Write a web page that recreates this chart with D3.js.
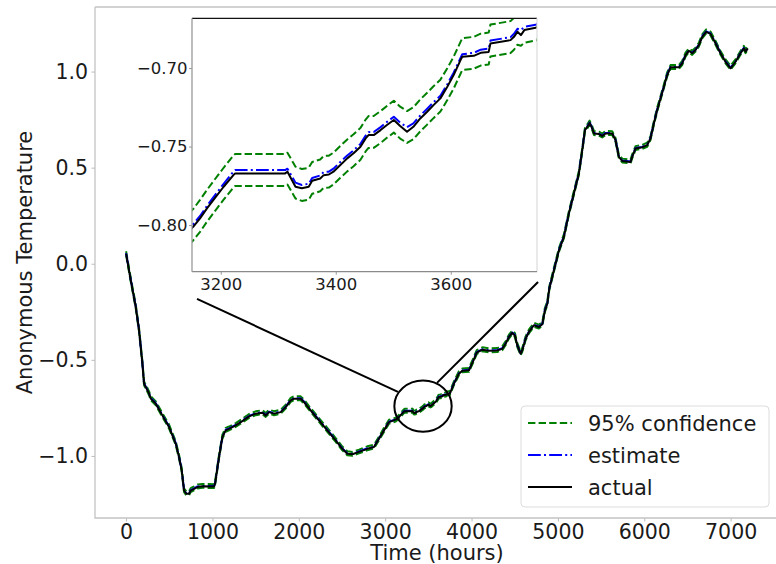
<!DOCTYPE html>
<html>
<head>
<meta charset="utf-8">
<script src="https://cdn.jsdelivr.net/npm/d3@7"></script>
<style>
  body { margin: 0; background: #fff; }
  text { font-family: "DejaVu Sans", sans-serif; fill: #1a1a1a; }
</style>
</head>
<body>
<div id="chart"></div>
<script>
// values (hours, anonymous temperature)
let hours = [
  0, 54, 112, 150, 189, 208, 266, 286, 344, 420, 498, 575, 613, 644, 671, 698, 729, 748, 787, 826,
  883, 1019, 1030, 1076, 1115, 1153, 1192, 1269, 1346, 1424, 1501, 1578, 1617, 1655, 1713, 1790, 1848, 1906, 1944, 2022,
  2060, 2137, 2234, 2330, 2427, 2504, 2562, 2620, 2697, 2793, 2870, 2928, 2986, 3044, 3121,
  3152, 3164, 3176, 3187, 3205, 3222, 3225, 3312, 3316, 3330, 3341, 3353, 3359, 3373, 3379, 3388, 3396, 3408, 3420, 3431,
  3443, 3452, 3457, 3466, 3478, 3489, 3501, 3512, 3524, 3535, 3547, 3559, 3570, 3582, 3594, 3605, 3617, 3620, 3640, 3652,
  3666, 3669, 3704, 3710, 3716, 3722, 3728, 3750,
  3796, 3854, 3893, 3970, 4020, 4060, 4125, 4201, 4298, 4356, 4394, 4433, 4471, 4502, 4529, 4568, 4587, 4626, 4664, 4722,
  4780, 4819, 4850, 4877, 4900, 4954, 5012, 5069, 5127, 5185, 5243, 5282, 5313, 5340, 5367, 5390, 5417, 5475, 5513, 5552,
  5629, 5667, 5706, 5745, 5841, 5860, 5899, 5976, 6034, 6072, 6111, 6149, 6188, 6227, 6265, 6304, 6400, 6439, 6478, 6516,
  6555, 6593, 6632, 6671, 6717, 6767, 6825, 6883, 6941, 6999, 7056, 7114, 7153, 7172, 7199
];

let actual = [
  0.053, -0.086, -0.225, -0.346, -0.520, -0.624, -0.676, -0.702, -0.728, -0.789, -0.850, -0.936, -1.006, -1.075, -1.180, -1.197, -1.197, -1.180, -1.171, -1.162,
  -1.158, -1.159, -1.145, -1.006, -0.902, -0.867, -0.859, -0.841, -0.819, -0.794, -0.780, -0.775, -0.789, -0.772, -0.780, -0.772, -0.746, -0.711, -0.702, -0.702,
  -0.720, -0.763, -0.815, -0.867, -0.919, -0.963, -0.989, -0.991, -0.979, -0.963, -0.954, -0.911, -0.867, -0.824, -0.811,
  -0.8011, -0.7957, -0.7894, -0.7841, -0.7756, -0.7682, -0.7671, -0.7671, -0.7660, -0.7756, -0.7766, -0.7756, -0.7718, -0.7703, -0.7682, -0.7678, -0.7660, -0.7618, -0.7575, -0.7543,
  -0.7501, -0.7448, -0.7427, -0.7427, -0.7395, -0.7363, -0.7331, -0.7369, -0.7406, -0.7374, -0.7321, -0.7278, -0.7236, -0.7193, -0.7119, -0.7045, -0.6949, -0.6928, -0.6922, -0.6903,
  -0.6897, -0.6843, -0.6822, -0.6801, -0.6769, -0.6790, -0.6758, -0.6741,
  -0.624, -0.572, -0.557, -0.554, -0.505, -0.462, -0.447, -0.453, -0.451, -0.442, -0.416, -0.381, -0.360, -0.373, -0.424, -0.468, -0.451, -0.390, -0.355, -0.320,
  -0.329, -0.315, -0.242, -0.208, -0.130, -0.034, 0.070, 0.140, 0.261, 0.366, 0.470, 0.591, 0.695, 0.712, 0.733, 0.712, 0.678, 0.675, 0.665, 0.678,
  0.678, 0.643, 0.556, 0.535, 0.530, 0.556, 0.600, 0.606, 0.617, 0.652, 0.730, 0.799, 0.860, 0.921, 0.982, 1.022, 1.022, 1.042, 1.086, 1.108,
  1.095, 1.112, 1.138, 1.181, 1.207, 1.196, 1.147, 1.095, 1.051, 1.017, 1.051, 1.095, 1.121, 1.104, 1.121
];

let estimate = [
  0.055, -0.083, -0.222, -0.344, -0.517, -0.622, -0.674, -0.699, -0.726, -0.787, -0.847, -0.934, -1.004, -1.072, -1.178, -1.195, -1.194, -1.178, -1.169, -1.159,
  -1.156, -1.157, -1.142, -1.004, -0.900, -0.864, -0.857, -0.839, -0.816, -0.792, -0.778, -0.772, -0.787, -0.770, -0.777, -0.770, -0.744, -0.708, -0.700, -0.700,
  -0.717, -0.761, -0.813, -0.864, -0.917, -0.961, -0.986, -0.989, -0.977, -0.960, -0.952, -0.909, -0.864, -0.822, -0.810,
  -0.7995, -0.7942, -0.7878, -0.7824, -0.7737, -0.7660, -0.7650, -0.7650, -0.7641, -0.7730, -0.7745, -0.7737, -0.7700, -0.7684, -0.7662, -0.7660, -0.7641, -0.7598, -0.7557, -0.7524,
  -0.7483, -0.7430, -0.7408, -0.7407, -0.7376, -0.7343, -0.7310, -0.7348, -0.7376, -0.7352, -0.7302, -0.7259, -0.7218, -0.7176, -0.7103, -0.7030, -0.6935, -0.6912, -0.6903, -0.6883,
  -0.6876, -0.6825, -0.6803, -0.6782, -0.6750, -0.6757, -0.6738, -0.6722,
  -0.622, -0.569, -0.555, -0.552, -0.502, -0.460, -0.445, -0.450, -0.449, -0.440, -0.413, -0.379, -0.358, -0.370, -0.422, -0.466, -0.448, -0.388, -0.353, -0.317,
  -0.327, -0.313, -0.239, -0.206, -0.128, -0.031, 0.072, 0.143, 0.263, 0.368, 0.473, 0.593, 0.697, 0.715, 0.735, 0.714, 0.681, 0.677, 0.667, 0.681,
  0.680, 0.645, 0.559, 0.537, 0.532, 0.559, 0.602, 0.608, 0.620, 0.654, 0.732, 0.802, 0.862, 0.923, 0.985, 1.024, 1.024, 1.045, 1.088, 1.110,
  1.098, 1.114, 1.140, 1.184, 1.209, 1.198, 1.150, 1.097, 1.053, 1.020, 1.053, 1.097, 1.124, 1.106, 1.123
];

let upper95 = [
  0.065, -0.073, -0.212, -0.334, -0.507, -0.612, -0.664, -0.689, -0.716, -0.777, -0.837, -0.924, -0.994, -1.062, -1.168, -1.185, -1.184, -1.168, -1.159, -1.149,
  -1.146, -1.147, -1.132, -0.994, -0.890, -0.854, -0.847, -0.829, -0.806, -0.782, -0.768, -0.762, -0.777, -0.760, -0.767, -0.760, -0.734, -0.698, -0.690, -0.690,
  -0.707, -0.751, -0.803, -0.854, -0.907, -0.951, -0.976, -0.979, -0.967, -0.950, -0.942, -0.899, -0.854, -0.812, -0.801,
  -0.7898, -0.7840, -0.7776, -0.7722, -0.7635, -0.7558, -0.7548, -0.7548, -0.7539, -0.7628, -0.7643, -0.7635, -0.7598, -0.7582, -0.7560, -0.7558, -0.7539, -0.7496, -0.7455, -0.7422,
  -0.7381, -0.7328, -0.7306, -0.7305, -0.7274, -0.7241, -0.7208, -0.7246, -0.7274, -0.7250, -0.7200, -0.7157, -0.7116, -0.7074, -0.7001, -0.6928, -0.6833, -0.6810, -0.6801, -0.6781,
  -0.6774, -0.6723, -0.6701, -0.6680, -0.6648, -0.6655, -0.6636, -0.6620,
  -0.612, -0.559, -0.545, -0.542, -0.492, -0.450, -0.435, -0.440, -0.439, -0.430, -0.403, -0.369, -0.348, -0.360, -0.412, -0.456, -0.438, -0.378, -0.343, -0.307,
  -0.317, -0.303, -0.229, -0.196, -0.118, -0.021, 0.082, 0.153, 0.273, 0.378, 0.483, 0.603, 0.707, 0.725, 0.745, 0.724, 0.691, 0.687, 0.677, 0.691,
  0.690, 0.655, 0.569, 0.547, 0.542, 0.569, 0.612, 0.618, 0.630, 0.664, 0.742, 0.812, 0.872, 0.933, 0.995, 1.034, 1.034, 1.055, 1.098, 1.120,
  1.108, 1.124, 1.150, 1.194, 1.219, 1.208, 1.160, 1.107, 1.063, 1.030, 1.063, 1.107, 1.134, 1.116, 1.133
];

let lower95 = [
  0.045, -0.094, -0.233, -0.354, -0.528, -0.632, -0.684, -0.710, -0.736, -0.797, -0.858, -0.944, -1.014, -1.083, -1.188, -1.205, -1.205, -1.188, -1.179, -1.170,
  -1.166, -1.167, -1.153, -1.014, -0.910, -0.875, -0.867, -0.849, -0.827, -0.802, -0.788, -0.783, -0.797, -0.780, -0.788, -0.780, -0.754, -0.719, -0.710, -0.710,
  -0.728, -0.771, -0.823, -0.875, -0.927, -0.971, -0.997, -0.999, -0.987, -0.971, -0.962, -0.919, -0.875, -0.832, -0.821,
  -0.8098, -0.8043, -0.7979, -0.7925, -0.7838, -0.7761, -0.7751, -0.7751, -0.7742, -0.7831, -0.7846, -0.7838, -0.7801, -0.7785, -0.7763, -0.7761, -0.7742, -0.7699, -0.7658, -0.7625,
  -0.7584, -0.7531, -0.7509, -0.7508, -0.7477, -0.7444, -0.7411, -0.7449, -0.7477, -0.7453, -0.7403, -0.7360, -0.7319, -0.7277, -0.7204, -0.7131, -0.7036, -0.7013, -0.7004, -0.6984,
  -0.6977, -0.6926, -0.6904, -0.6883, -0.6851, -0.6858, -0.6839, -0.6823,
  -0.632, -0.580, -0.565, -0.562, -0.513, -0.470, -0.455, -0.461, -0.459, -0.450, -0.424, -0.389, -0.368, -0.381, -0.432, -0.476, -0.459, -0.398, -0.363, -0.328,
  -0.337, -0.323, -0.250, -0.216, -0.138, -0.042, 0.062, 0.132, 0.253, 0.358, 0.462, 0.583, 0.687, 0.704, 0.725, 0.704, 0.670, 0.667, 0.657, 0.670,
  0.670, 0.635, 0.548, 0.527, 0.522, 0.548, 0.592, 0.598, 0.609, 0.644, 0.722, 0.791, 0.852, 0.913, 0.974, 1.014, 1.014, 1.034, 1.078, 1.100,
  1.087, 1.104, 1.130, 1.173, 1.199, 1.188, 1.139, 1.087, 1.043, 1.009, 1.043, 1.087, 1.113, 1.096, 1.113
];

let xTicks = [0, 1000, 2000, 3000, 4000, 5000, 6000, 7000];
let yTicks = [-1.0, -0.5, 0.0, 0.5, 1.0];
let insetXTicks = [3200, 3400, 3600];
let insetYTicks = [-0.80, -0.75, -0.70];

let zoomHours = [3150, 3750];
let zoomTemp = [-0.8297, -0.6683];

// magnified spot and the two leader lines, in data units
let spot = { hours: 3438, temp: -0.741, rHours: 332, rTemp: 0.133 };
let leaders = [
  [[821, -0.183], [3148, -0.667]],
  [[3600, -0.620], [4770, -0.095]]
];

let legendItems = ['95% confidence', 'estimate', 'actual'];

const width = 776, height = 564;
const frame = { left: 95, right: 779, top: 7, bottom: 518 };
const box = { left: 192, right: 537, top: 18.3, bottom: 271.7 };

const series = [
  { values: upper95, color: 'green', dash: '7.4,3.2' },
  { values: lower95, color: 'green', dash: '7.4,3.2' },
  { values: estimate, color: 'blue', dash: '12.8,3.2,2,3.2' },
  { values: actual, color: 'black', dash: null }
];

let x = d3.scaleLinear().domain([-360, 7560]).range([frame.left, frame.right]);
let y = d3.scaleLinear().domain([-1.323, 1.336]).range([frame.bottom, frame.top]);
let xi = d3.scaleLinear().domain(zoomHours).range([box.left, box.right]);
let yi = d3.scaleLinear().domain(zoomTemp).range([box.bottom, box.top]);

let svg = d3.select('#chart').append('svg')
  .attr('width', width)
  .attr('height', height);

let defs = svg.append('defs');
defs.append('clipPath').attr('id', 'clipMain').append('rect')
  .attr('x', frame.left).attr('y', frame.top)
  .attr('width', frame.right - frame.left).attr('height', frame.bottom - frame.top);
defs.append('clipPath').attr('id', 'clipInset').append('rect')
  .attr('x', box.left).attr('y', box.top)
  .attr('width', box.right - box.left).attr('height', box.bottom - box.top);

function drawSeries(g, sx, sy) {
  series.forEach(s => {
    let line = d3.line()
      .x((d, i) => sx(hours[i]))
      .y(d => sy(d));
    g.append('path')
      .datum(s.values)
      .attr('d', line)
      .attr('fill', 'none')
      .attr('stroke', s.color)
      .attr('stroke-width', 2)
      .attr('stroke-dasharray', s.dash)
      .attr('stroke-linejoin', 'round');
  });
}

function styleAxis(g, size, color) {
  g.select('.domain').remove();
  g.selectAll('.tick line').attr('stroke', color).attr('stroke-width', 1);
  g.selectAll('.tick text').attr('font-size', size).attr('fill', '#1a1a1a');
}

// main axes
svg.append('g')
  .attr('transform', `translate(0,${frame.bottom})`)
  .call(d3.axisBottom(x).tickValues(xTicks).tickFormat(d3.format('d')).tickSize(3.5).tickPadding(2.5))
  .call(g => styleAxis(g, 20.5, '#bbb'));

svg.append('g')
  .attr('transform', `translate(${frame.left},0)`)
  .call(d3.axisLeft(y).tickValues(yTicks).tickFormat(d3.format('.1f')).tickSize(3.5).tickPadding(3.5))
  .call(g => styleAxis(g, 20.5, '#bbb'));

drawSeries(svg.append('g').attr('clip-path', 'url(#clipMain)'), x, y);

// spines (the right one falls outside the picture)
svg.append('path')
  .attr('d', `M${frame.left},${frame.top}H${frame.right}M${frame.left},${frame.top}V${frame.bottom}H${frame.right}`)
  .attr('fill', 'none')
  .attr('stroke', '#c4c4c4')
  .attr('stroke-width', 1.3);

svg.append('text')
  .attr('text-anchor', 'middle')
  .attr('x', (frame.left + frame.right) / 2)
  .attr('y', 559.5)
  .attr('font-size', 21)
  .text('Time (hours)');

svg.append('text')
  .attr('text-anchor', 'middle')
  .attr('transform', 'rotate(-90)')
  .attr('x', -(frame.top + frame.bottom) / 2)
  .attr('y', 25)
  .attr('dy', '0.35em')
  .attr('font-size', 21)
  .text('Anonymous Temperature');

// magnified spot and leaders
svg.append('ellipse')
  .attr('cx', x(spot.hours))
  .attr('cy', y(spot.temp))
  .attr('rx', x(spot.hours + spot.rHours) - x(spot.hours))
  .attr('ry', y(spot.temp - spot.rTemp) - y(spot.temp))
  .attr('fill', 'none')
  .attr('stroke', 'black')
  .attr('stroke-width', 2);

svg.selectAll('line.leader')
  .data(leaders)
  .enter().append('line')
  .attr('class', 'leader')
  .attr('x1', d => x(d[0][0])).attr('y1', d => y(d[0][1]))
  .attr('x2', d => x(d[1][0])).attr('y2', d => y(d[1][1]))
  .attr('stroke', 'black')
  .attr('stroke-width', 2);

// inset
let insetG = svg.append('g');
insetG.append('rect')
  .attr('x', box.left).attr('y', box.top)
  .attr('width', box.right - box.left).attr('height', box.bottom - box.top)
  .attr('fill', 'white');

drawSeries(insetG.append('g').attr('clip-path', 'url(#clipInset)'), xi, yi);

insetG.append('g')
  .attr('transform', `translate(0,${box.bottom})`)
  .call(d3.axisBottom(xi).tickValues(insetXTicks).tickFormat(d3.format('d')).tickSize(3).tickPadding(4))
  .call(g => styleAxis(g, 16.5, '#999'));

insetG.append('g')
  .attr('transform', `translate(${box.left},0)`)
  .call(d3.axisLeft(yi).tickValues(insetYTicks).tickFormat(d3.format('.2f')).tickSize(3).tickPadding(1.5))
  .call(g => styleAxis(g, 16.5, '#999'));

let spines = [
  { d: `M${box.left},${box.top}H${box.right}`, c: '#111' },
  { d: `M${box.right},${box.top}V${box.bottom}`, c: '#ddd' },
  { d: `M${box.left},${box.bottom}H${box.right}`, c: '#8a8a8a' },
  { d: `M${box.left},${box.top}V${box.bottom}`, c: '#999' }
];
insetG.selectAll('path.spine')
  .data(spines)
  .enter().append('path')
  .attr('class', 'spine')
  .attr('d', d => d.d)
  .attr('stroke', d => d.c)
  .attr('stroke-width', 1.3)
  .attr('fill', 'none');

// legend
let legend = svg.append('g').attr('transform', 'translate(521,406)');
legend.append('rect')
  .attr('width', 248).attr('height', 101)
  .attr('rx', 4)
  .attr('fill', 'white').attr('fill-opacity', 0.8)
  .attr('stroke', '#dcdcdc');

let legendStyles = [series[0], series[2], series[3]];
let item = legend.selectAll('g.item')
  .data(legendItems)
  .enter().append('g')
  .attr('class', 'item')
  .attr('transform', (d, i) => `translate(0,${17 + 32 * i})`);

item.append('line')
  .attr('x1', 7).attr('x2', 51)
  .attr('stroke', (d, i) => legendStyles[i].color)
  .attr('stroke-width', 2)
  .attr('stroke-dasharray', (d, i) => legendStyles[i].dash);

item.append('text')
  .attr('x', 67)
  .attr('dy', '0.36em')
  .attr('font-size', 21)
  .text(d => d);
</script>
</body>
</html>
